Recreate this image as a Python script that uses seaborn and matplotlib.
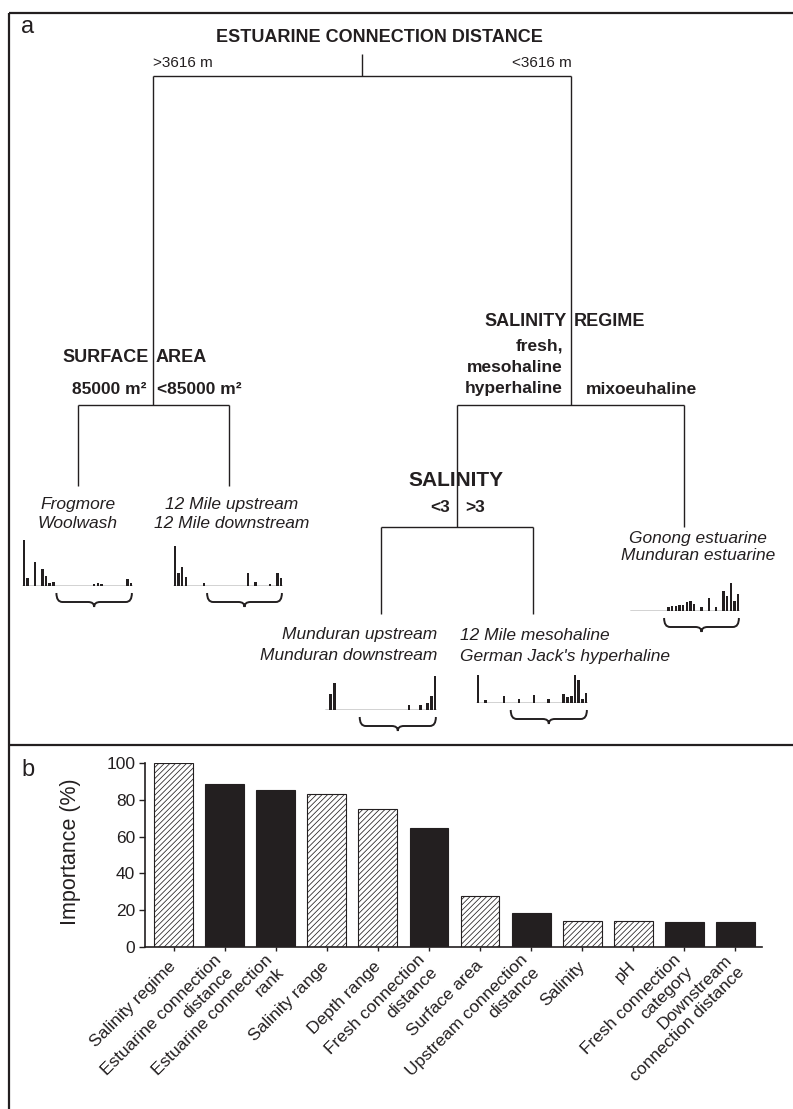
import numpy as np
import pandas as pd
import matplotlib
matplotlib.use("Agg")
import matplotlib.pyplot as plt
from matplotlib.path import Path
from matplotlib.patches import PathPatch
import seaborn as sns

# ------------------------------------------------------------------ data
importance_labels = ["Salinity regime", "Estuarine connection\ndistance",
                     "Estuarine connection\nrank", "Salinity range", "Depth range",
                     "Fresh connection\ndistance", "Surface area",
                     "Upstream connection\ndistance", "Salinity", "pH",
                     "Fresh connection\ncategory", "Downstream\nconnection distance"]
importance_values = [100, 88.4, 85.3, 83.3, 74.8, 64.8, 27.7, 18.5, 14.3, 14.3, 13.4, 13.4]
variable_group = ["habitat", "connectivity", "connectivity", "habitat", "habitat",
                  "connectivity", "habitat", "connectivity", "habitat", "habitat",
                  "connectivity", "connectivity"]
importance_ticks = [0, 20, 40, 60, 80, 100]

root_split = "ESTUARINE CONNECTION DISTANCE"
root_branches = [">3616 m", "<3616 m"]
area_split = ["SURFACE", "AREA"]
area_branches = ["85000 m²", "<85000 m²"]
regime_split = ["SALINITY", "REGIME"]
regime_branches = [["fresh,", "mesohaline", "hyperhaline"], ["mixoeuhaline"]]
salinity_split = "SALINITY"
salinity_branches = ["<3", ">3"]

leaf_frogmore = ["Frogmore", "Woolwash"]
leaf_12mile_river = ["12 Mile upstream", "12 Mile downstream"]
leaf_munduran_river = ["Munduran upstream", "Munduran downstream"]
leaf_saline = ["12 Mile mesohaline", "German Jack's hyperhaline"]
leaf_estuarine = ["Gonong estuarine", "Munduran estuarine"]

# relative abundance profiles (30 taxa) drawn under each leaf
hist_frogmore = [46, 8, 0, 24, 0, 17, 10, 3, 4, 0, 0, 0, 0, 0, 0,
                 0, 0, 0, 0, 2, 3, 2, 0, 0, 0, 0, 0, 0, 7, 3]
hist_12mile_river = [40, 13, 19, 9, 0, 0, 0, 0, 3, 0, 0, 0, 0, 0, 0,
                     0, 0, 0, 0, 0, 13, 0, 4, 0, 0, 0, 2, 0, 13, 8]
hist_munduran_river = [0, 16, 27, 0, 0, 0, 0, 0, 0, 0, 0, 0, 0, 0, 0,
                       0, 0, 0, 0, 0, 0, 0, 5, 0, 0, 5, 0, 7, 14, 34]
hist_saline = [28, 0, 3, 0, 0, 0, 0, 7, 0, 0, 0, 4, 0, 0, 0,
               8, 0, 0, 0, 4, 0, 0, 0, 9, 6, 7, 28, 23, 4, 10]
hist_estuarine = [0, 0, 0, 0, 0, 0, 0, 0, 0, 0, 4, 5, 5, 6, 6,
                  9, 10, 7, 0, 4, 0, 13, 0, 4, 0, 20, 15, 28, 10, 17]

# ------------------------------------------------------------------ style
sns.set_theme(style="ticks")
plt.rcParams["font.family"] = ["Liberation Sans", "DejaVu Sans"]
plt.rcParams["hatch.linewidth"] = 0.55
DARK = "#231f20"
W, H = 793, 1109

fig = plt.figure(figsize=(W / 100, H / 100), dpi=100)
fig.patch.set_facecolor("white")

# overlay in pixel coordinates for the tree diagram
ov = fig.add_axes([0, 0, 1, 1])
ov.set_xlim(0, W)
ov.set_ylim(H, 0)
ov.axis("off")

LW = 1.0


def seg(xs, ys, lw=LW):
    ov.plot(xs, ys, color=DARK, lw=lw, solid_capstyle="butt", zorder=2)


def split(xl, xr, y, stem_x, stem_top):
    seg([stem_x, stem_x], [stem_top, y])
    seg([xl, xr], [y, y])


# panel frames
seg([9, W], [13, 13], lw=1.6)
seg([9, 9], [13, H], lw=1.6)
seg([9, W], [745, 745], lw=1.6)
ov.text(28, 27, "a", fontsize=17, ha="center", va="center", color=DARK)
ov.text(28, 770, "b", fontsize=17, ha="center", va="center", color=DARK)

# root split
ov.text(379, 38, root_split, fontsize=13, fontweight="bold", ha="center", va="center", color=DARK)
seg([362, 362], [54, 76])
seg([153, 571], [76, 76])
ov.text(153, 63, root_branches[0], fontsize=11, ha="left", va="center", color=DARK)
ov.text(572, 63, root_branches[1], fontsize=11, ha="right", va="center", color=DARK)

# surface area split
split(77.7, 229, 405, 153, 76)
ov.text(149, 357, area_split[0], fontsize=13, fontweight="bold", ha="right", va="center", color=DARK)
ov.text(156, 357, area_split[1], fontsize=13, fontweight="bold", ha="left", va="center", color=DARK)
ov.text(147, 389, area_branches[0], fontsize=12.5, fontweight="bold", ha="right", va="center", color=DARK)
ov.text(157, 389, area_branches[1], fontsize=12.5, fontweight="bold", ha="left", va="center", color=DARK)
seg([77.7, 77.7], [405, 486])
seg([229, 229], [405, 486])

# salinity regime split
split(457, 684, 405, 571, 76)
ov.text(567, 322, regime_split[0], fontsize=13, fontweight="bold", ha="right", va="center", color=DARK)
ov.text(574, 322, regime_split[1], fontsize=13, fontweight="bold", ha="left", va="center", color=DARK)
for s, yy in zip(regime_branches[0], [346, 368, 389]):
    ov.text(563, yy, s, fontsize=12.5, fontweight="bold", ha="right", va="center", color=DARK)
ov.text(586, 389, regime_branches[1][0], fontsize=12.5, fontweight="bold", ha="left", va="center", color=DARK)
seg([684, 684], [405, 527])

# salinity split
split(381, 533, 527, 457, 405)
ov.text(456, 481, salinity_split, fontsize=15, fontweight="bold", ha="center", va="center", color=DARK)
ov.text(450, 507, salinity_branches[0], fontsize=12.5, fontweight="bold", ha="right", va="center", color=DARK)
ov.text(465, 507, salinity_branches[1], fontsize=12.5, fontweight="bold", ha="left", va="center", color=DARK)
seg([381, 381], [527, 614])
seg([533, 533], [527, 614])

# leaves
def leaf_text(lines, x, ys, ha):
    for s, yy in zip(lines, ys):
        ov.text(x, yy, s, fontsize=12.5, style="italic", ha=ha, va="center", color=DARK)


leaf_text(leaf_frogmore, 77.7, [504, 523], "center")
leaf_text(leaf_12mile_river, 232, [504, 523], "center")
leaf_text(leaf_munduran_river, 437, [635, 656], "right")
leaf_text(leaf_saline, 460, [635, 656], "left")
leaf_text(leaf_estuarine, 698, [538, 556], "center")


def brace(x0, x1, base):
    ytop, ymid, ybot = base + 7, base + 16, base + 21
    xm = (x0 + x1) / 2
    r = 6
    verts = [(x0, ytop), (x0, ymid), (x0 + r, ymid), (xm - r, ymid),
             (xm, ymid), (xm, ybot), (xm, ymid), (xm + r, ymid),
             (x1 - r, ymid), (x1, ymid), (x1, ytop)]
    codes = [Path.MOVETO, Path.CURVE3, Path.CURVE3, Path.LINETO,
             Path.CURVE3, Path.CURVE3, Path.CURVE3, Path.CURVE3,
             Path.LINETO, Path.CURVE3, Path.CURVE3]
    ov.add_patch(PathPatch(Path(verts, codes), fill=False, edgecolor=DARK, lw=1.4))


def mini_hist(values, x0, x1, base):
    hh = 50
    ax = fig.add_axes([x0 / W, 1 - base / H, (x1 - x0) / W, hh / H])
    n = len(values)
    ax.bar(np.arange(n), values, width=0.7, color=DARK, linewidth=0)
    ax.axhline(0, color=DARK, lw=1.0)
    ax.set_xlim(-0.5, n - 0.5)
    ax.set_ylim(0, hh)
    ax.axis("off")
    brace(x0 + 0.31 * (x1 - x0), x1 - 0.01 * (x1 - x0), base)


mini_hist(hist_frogmore, 22, 133, 586)
mini_hist(hist_12mile_river, 173, 283, 586)
mini_hist(hist_munduran_river, 325, 437, 710)
mini_hist(hist_saline, 476, 588, 703)
mini_hist(hist_estuarine, 630, 740, 611)

# ------------------------------------------------------------------ panel b
ax_b = fig.add_axes([145 / W, 1 - 947 / H, (762 - 145) / W, (947 - 763) / H])
df = pd.DataFrame({"variable": importance_labels, "importance": importance_values,
                   "group": variable_group})
sns.barplot(data=df, x="variable", y="importance", hue="group",
            palette={"habitat": "white", "connectivity": DARK}, dodge=False,
            width=0.76, edgecolor=DARK, linewidth=0.8, saturation=1,
            legend=False, ax=ax_b)
for p in ax_b.patches:
    fc = p.get_facecolor()
    if fc[0] > 0.9:
        p.set_hatch("//////")
ax_b.set_ylim(0, 100)
ax_b.set_xlim(-0.56, 11.52)
ax_b.set_yticks(importance_ticks)
ax_b.set_xticks(range(len(importance_labels)))
ax_b.set_xticklabels(importance_labels, rotation=45, ha="right", va="center",
                     rotation_mode="anchor", fontsize=12.5, color=DARK)
for t in ax_b.get_xticklabels():
    t.set_multialignment("right")
ax_b.tick_params(axis="x", length=3, width=1, pad=9, color=DARK)
ax_b.tick_params(axis="y", length=4, width=1, pad=3, labelsize=12.5, color=DARK, labelcolor=DARK)
for side in ["top", "right"]:
    ax_b.spines[side].set_visible(False)
for side in ["left", "bottom"]:
    ax_b.spines[side].set_color(DARK)
    ax_b.spines[side].set_linewidth(1.2)
ax_b.set_xlabel("")
ax_b.set_ylabel("Importance (%)", fontsize=15.5, color=DARK)
ax_b.yaxis.set_label_coords(-0.104, 0.52)
ax_b.set_facecolor("none")

fig.savefig("out.png", dpi=100, facecolor="white")
